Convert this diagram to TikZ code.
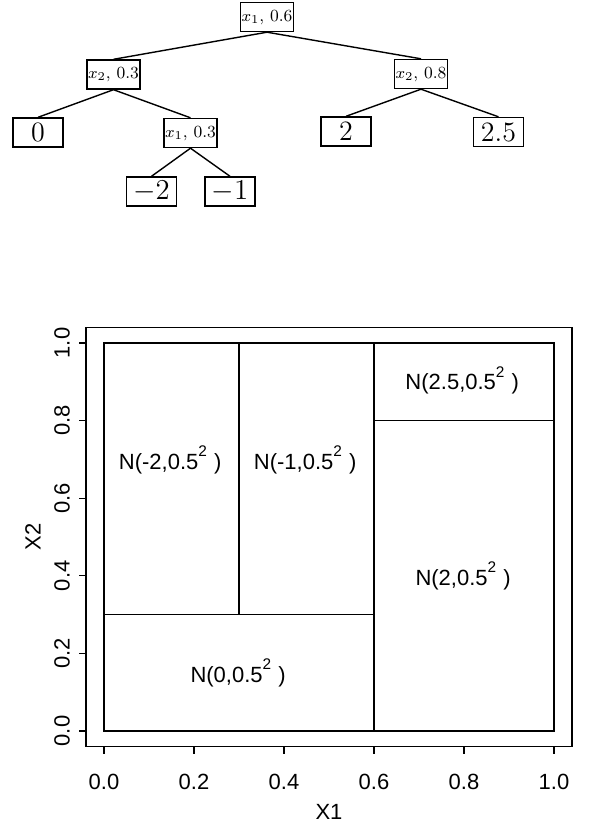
\documentclass[tikz,border=0pt]{standalone}
\usepackage{fontspec}
\newfontfamily\plotfont{Liberation Sans}

\begin{document}
\begin{tikzpicture}[
    x=0.5pt, y=-0.5pt,
    line width=0.6pt,
    splitbox/.style={draw, line width=0.7pt, minimum width=25.5pt,
        minimum height=14.5pt, inner sep=0.5pt, font=\fontsize{8.5}{9}\selectfont},
    leafbox/.style={draw, line width=0.7pt, minimum width=25pt,
        minimum height=14.5pt, inner sep=1pt, font=\fontsize{14}{16}\selectfont},
    regionlabel/.style={anchor=base, font=\plotfont\fontsize{11}{13}\selectfont},
    ticklabel/.style={font=\plotfont\fontsize{11}{13}\selectfont}
]
\useasboundingbox (0,0) rectangle (596,830);

% regression tree
\node[splitbox] (root) at (267,17) {$x_1$, 0.6};
\node[splitbox] (splitL) at (113.5,74.5) {$x_2$, 0.3};
\node[splitbox] (splitR) at (421,74) {$x_2$, 0.8};
\node[splitbox] (splitLR) at (190.5,133) {$x_1$, 0.3};
\node[leafbox] (leafzero) at (38,132.5) {0};
\node[leafbox] (leaftwo) at (346,131.5) {2};
\node[leafbox] (leaftwohalf) at (498.5,132) {2.5};
\node[leafbox] (leafmtwo) at (151.5,191.5) {$-2$};
\node[leafbox] (leafmone) at (230,191.5) {$-1$};

\draw[line width=0.7pt] (root.south) -- (splitL.north);
\draw[line width=0.7pt] (root.south) -- (splitR.north);
\draw[line width=0.7pt] (splitL.south) -- (leafzero.north);
\draw[line width=0.7pt] (splitL.south) -- (splitLR.north);
\draw[line width=0.7pt] (splitR.south) -- (leaftwo.north);
\draw[line width=0.7pt] (splitR.south) -- (leaftwohalf.north);
\draw[line width=0.7pt] (splitLR.south) -- (leafmtwo.north);
\draw[line width=0.7pt] (splitLR.south) -- (leafmone.north);

% partition of the unit square
\begin{scope}[shift={(104,731)}, x=225pt, y=194pt]
    \draw (-0.04,-0.04) rectangle (1.04,1.04);
    \draw (0,0) rectangle (1,1);
    \draw (0.6,0) -- (0.6,1);
    \draw (0,0.3) -- (0.6,0.3);
    \draw (0.3,0.3) -- (0.3,1);
    \draw (0.6,0.8) -- (1,0.8);

    \foreach \t/\lab in {0/0.0,0.2/0.2,0.4/0.4,0.6/0.6,0.8/0.8,1/1.0} {
        \draw (\t,-0.04) -- ++(0,-3.5pt);
        \draw (-0.04,\t) -- ++(-3.5pt,0);
        \node[ticklabel] (xt\lab) at (\t,-0.1314) {\lab};
        \node[ticklabel, rotate=90] (yt\lab) at (-0.0933,\t) {\lab};
    }
    \node[ticklabel] (xlab) at (0.5,-0.209) {X1};
    \node[ticklabel, rotate=90] (ylab) at (-0.158,0.5) {X2};

    \node[regionlabel] (regmtwo) at (0.147,0.675) {N(-2,0.5\raisebox{0.4ex}{\textsuperscript{2}} )};
    \node[regionlabel] (regmone) at (0.447,0.675) {N(-1,0.5\raisebox{0.4ex}{\textsuperscript{2}} )};
    \node[regionlabel] (regtwohalf) at (0.796,0.879) {N(2.5,0.5\raisebox{0.4ex}{\textsuperscript{2}} )};
    \node[regionlabel] (regtwo) at (0.798,0.376) {N(2,0.5\raisebox{0.4ex}{\textsuperscript{2}} )};
    \node[regionlabel] (regzero) at (0.298,0.126) {N(0,0.5\raisebox{0.4ex}{\textsuperscript{2}} )};
\end{scope}

\end{tikzpicture}
\end{document}
